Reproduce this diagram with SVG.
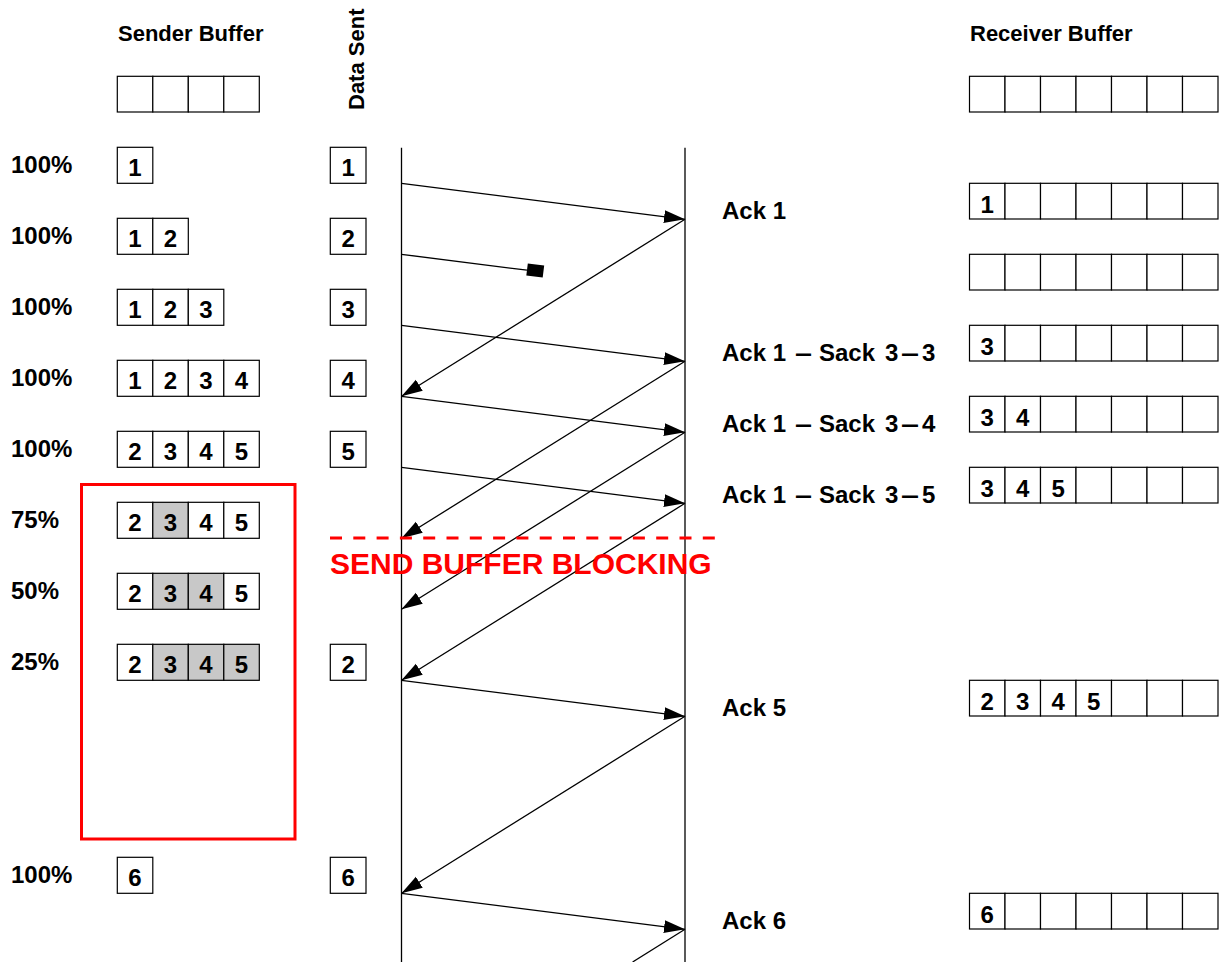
<svg xmlns="http://www.w3.org/2000/svg" width="1220" height="962" viewBox="0 0 1220 962">
<style>
.t{font-family:"Liberation Sans",Arial,sans-serif;font-weight:bold;fill:#000}
.hd{font-size:22px}
.pc{font-size:24px}
.dg{font-size:24px;text-anchor:middle}
.ak{font-size:24px}
.c{fill:#fff;stroke:#000;stroke-width:1.2}
.g{fill:#c8c8c8;stroke:#000;stroke-width:1.2}
.ln{stroke:#000;stroke-width:1.3;fill:none}
.ar{stroke:#000;stroke-width:1.3;fill:none;marker-end:url(#ah)}
</style>
<defs>
<marker id="ah" markerUnits="userSpaceOnUse" markerWidth="22" markerHeight="14" viewBox="0 0 22 14" refX="21" refY="7" orient="auto">
<path d="M0,0.5 L21,7 L0,13.5 z" fill="#000"/>
</marker>
</defs>
<rect width="1220" height="962" fill="#fff"/>

<g id="headers">
<text class="t hd" x="118" y="41">Sender Buffer</text>
<text class="t hd" x="970" y="41">Receiver Buffer</text>
<text class="t hd" transform="translate(364,110) rotate(-90)">Data Sent</text>
</g>

<g id="sender-header">
<rect class="c" x="117.3" y="76.3" width="35.5" height="35.7"/>
<rect class="c" x="152.8" y="76.3" width="35.5" height="35.7"/>
<rect class="c" x="188.3" y="76.3" width="35.5" height="35.7"/>
<rect class="c" x="223.8" y="76.3" width="35.5" height="35.7"/>
</g>

<g id="receiver-header">
<rect class="c" x="969.5" y="76.3" width="35.5" height="35.7"/>
<rect class="c" x="1005" y="76.3" width="35.5" height="35.7"/>
<rect class="c" x="1040.5" y="76.3" width="35.5" height="35.7"/>
<rect class="c" x="1076" y="76.3" width="35.5" height="35.7"/>
<rect class="c" x="1111.5" y="76.3" width="35.5" height="35.7"/>
<rect class="c" x="1147" y="76.3" width="35.5" height="35.7"/>
<rect class="c" x="1182.5" y="76.3" width="35.5" height="35.7"/>
</g>

<g id="percent-labels">
<text class="t pc" x="11" y="173.3">100%</text>
<text class="t pc" x="11" y="244.3">100%</text>
<text class="t pc" x="11" y="315.3">100%</text>
<text class="t pc" x="11" y="386.3">100%</text>
<text class="t pc" x="11" y="457.3">100%</text>
<text class="t pc" x="11" y="528.3">75%</text>
<text class="t pc" x="11" y="599.3">50%</text>
<text class="t pc" x="11" y="670.3">25%</text>
<text class="t pc" x="11" y="883.3">100%</text>
</g>

<g id="sender-row-1">
<rect class="c" x="117.3" y="147.3" width="35.5" height="36"/>
<text class="t dg" x="135" y="175.5">1</text>
</g>
<g id="sender-row-2">
<rect class="c" x="117.3" y="218.3" width="35.5" height="36"/>
<rect class="c" x="152.8" y="218.3" width="35.5" height="36"/>
<text class="t dg" x="135" y="246.5">1</text>
<text class="t dg" x="170.5" y="246.5">2</text>
</g>
<g id="sender-row-3">
<rect class="c" x="117.3" y="289.3" width="35.5" height="36"/>
<rect class="c" x="152.8" y="289.3" width="35.5" height="36"/>
<rect class="c" x="188.3" y="289.3" width="35.5" height="36"/>
<text class="t dg" x="135" y="317.5">1</text>
<text class="t dg" x="170.5" y="317.5">2</text>
<text class="t dg" x="206" y="317.5">3</text>
</g>
<g id="sender-row-4">
<rect class="c" x="117.3" y="360.3" width="35.5" height="36"/>
<rect class="c" x="152.8" y="360.3" width="35.5" height="36"/>
<rect class="c" x="188.3" y="360.3" width="35.5" height="36"/>
<rect class="c" x="223.8" y="360.3" width="35.5" height="36"/>
<text class="t dg" x="135" y="388.5">1</text>
<text class="t dg" x="170.5" y="388.5">2</text>
<text class="t dg" x="206" y="388.5">3</text>
<text class="t dg" x="241.5" y="388.5">4</text>
</g>
<g id="sender-row-5">
<rect class="c" x="117.3" y="431.3" width="35.5" height="36"/>
<rect class="c" x="152.8" y="431.3" width="35.5" height="36"/>
<rect class="c" x="188.3" y="431.3" width="35.5" height="36"/>
<rect class="c" x="223.8" y="431.3" width="35.5" height="36"/>
<text class="t dg" x="135" y="459.5">2</text>
<text class="t dg" x="170.5" y="459.5">3</text>
<text class="t dg" x="206" y="459.5">4</text>
<text class="t dg" x="241.5" y="459.5">5</text>
</g>
<g id="sender-row-6">
<rect class="c" x="117.3" y="502.3" width="35.5" height="36"/>
<rect class="g" x="152.8" y="502.3" width="35.5" height="36"/>
<rect class="c" x="188.3" y="502.3" width="35.5" height="36"/>
<rect class="c" x="223.8" y="502.3" width="35.5" height="36"/>
<text class="t dg" x="135" y="530.5">2</text>
<text class="t dg" x="170.5" y="530.5">3</text>
<text class="t dg" x="206" y="530.5">4</text>
<text class="t dg" x="241.5" y="530.5">5</text>
</g>
<g id="sender-row-7">
<rect class="c" x="117.3" y="573.3" width="35.5" height="36"/>
<rect class="g" x="152.8" y="573.3" width="35.5" height="36"/>
<rect class="g" x="188.3" y="573.3" width="35.5" height="36"/>
<rect class="c" x="223.8" y="573.3" width="35.5" height="36"/>
<text class="t dg" x="135" y="601.5">2</text>
<text class="t dg" x="170.5" y="601.5">3</text>
<text class="t dg" x="206" y="601.5">4</text>
<text class="t dg" x="241.5" y="601.5">5</text>
</g>
<g id="sender-row-8">
<rect class="c" x="117.3" y="644.3" width="35.5" height="36"/>
<rect class="g" x="152.8" y="644.3" width="35.5" height="36"/>
<rect class="g" x="188.3" y="644.3" width="35.5" height="36"/>
<rect class="g" x="223.8" y="644.3" width="35.5" height="36"/>
<text class="t dg" x="135" y="672.5">2</text>
<text class="t dg" x="170.5" y="672.5">3</text>
<text class="t dg" x="206" y="672.5">4</text>
<text class="t dg" x="241.5" y="672.5">5</text>
</g>
<g id="sender-row-9">
<rect class="c" x="117.3" y="857.3" width="35.5" height="36"/>
<text class="t dg" x="135" y="885.5">6</text>
</g>

<g id="data-sent">
<rect class="c" x="330.3" y="147.3" width="35.7" height="36"/><text class="t dg" x="348.2" y="175.5">1</text>
<rect class="c" x="330.3" y="218.3" width="35.7" height="36"/><text class="t dg" x="348.2" y="246.5">2</text>
<rect class="c" x="330.3" y="289.3" width="35.7" height="36"/><text class="t dg" x="348.2" y="317.5">3</text>
<rect class="c" x="330.3" y="360.3" width="35.7" height="36"/><text class="t dg" x="348.2" y="388.5">4</text>
<rect class="c" x="330.3" y="431.3" width="35.7" height="36"/><text class="t dg" x="348.2" y="459.5">5</text>
<rect class="c" x="330.3" y="644.3" width="35.7" height="36"/><text class="t dg" x="348.2" y="672.5">2</text>
<rect class="c" x="330.3" y="857.3" width="35.7" height="36"/><text class="t dg" x="348.2" y="885.5">6</text>
</g>

<g id="receiver-row-1">
<rect class="c" x="969.5" y="183.3" width="35.5" height="35.7"/>
<rect class="c" x="1005" y="183.3" width="35.5" height="35.7"/>
<rect class="c" x="1040.5" y="183.3" width="35.5" height="35.7"/>
<rect class="c" x="1076" y="183.3" width="35.5" height="35.7"/>
<rect class="c" x="1111.5" y="183.3" width="35.5" height="35.7"/>
<rect class="c" x="1147" y="183.3" width="35.5" height="35.7"/>
<rect class="c" x="1182.5" y="183.3" width="35.5" height="35.7"/>
<text class="t dg" x="987.3" y="213">1</text>
</g>
<g id="receiver-row-2">
<rect class="c" x="969.5" y="254.3" width="35.5" height="35.7"/>
<rect class="c" x="1005" y="254.3" width="35.5" height="35.7"/>
<rect class="c" x="1040.5" y="254.3" width="35.5" height="35.7"/>
<rect class="c" x="1076" y="254.3" width="35.5" height="35.7"/>
<rect class="c" x="1111.5" y="254.3" width="35.5" height="35.7"/>
<rect class="c" x="1147" y="254.3" width="35.5" height="35.7"/>
<rect class="c" x="1182.5" y="254.3" width="35.5" height="35.7"/>
</g>
<g id="receiver-row-3">
<rect class="c" x="969.5" y="325.3" width="35.5" height="35.7"/>
<rect class="c" x="1005" y="325.3" width="35.5" height="35.7"/>
<rect class="c" x="1040.5" y="325.3" width="35.5" height="35.7"/>
<rect class="c" x="1076" y="325.3" width="35.5" height="35.7"/>
<rect class="c" x="1111.5" y="325.3" width="35.5" height="35.7"/>
<rect class="c" x="1147" y="325.3" width="35.5" height="35.7"/>
<rect class="c" x="1182.5" y="325.3" width="35.5" height="35.7"/>
<text class="t dg" x="987.3" y="355">3</text>
</g>
<g id="receiver-row-4">
<rect class="c" x="969.5" y="396.3" width="35.5" height="35.7"/>
<rect class="c" x="1005" y="396.3" width="35.5" height="35.7"/>
<rect class="c" x="1040.5" y="396.3" width="35.5" height="35.7"/>
<rect class="c" x="1076" y="396.3" width="35.5" height="35.7"/>
<rect class="c" x="1111.5" y="396.3" width="35.5" height="35.7"/>
<rect class="c" x="1147" y="396.3" width="35.5" height="35.7"/>
<rect class="c" x="1182.5" y="396.3" width="35.5" height="35.7"/>
<text class="t dg" x="987.3" y="426">3</text>
<text class="t dg" x="1022.8" y="426">4</text>
</g>
<g id="receiver-row-5">
<rect class="c" x="969.5" y="467.3" width="35.5" height="35.7"/>
<rect class="c" x="1005" y="467.3" width="35.5" height="35.7"/>
<rect class="c" x="1040.5" y="467.3" width="35.5" height="35.7"/>
<rect class="c" x="1076" y="467.3" width="35.5" height="35.7"/>
<rect class="c" x="1111.5" y="467.3" width="35.5" height="35.7"/>
<rect class="c" x="1147" y="467.3" width="35.5" height="35.7"/>
<rect class="c" x="1182.5" y="467.3" width="35.5" height="35.7"/>
<text class="t dg" x="987.3" y="497">3</text>
<text class="t dg" x="1022.8" y="497">4</text>
<text class="t dg" x="1058.3" y="497">5</text>
</g>
<g id="receiver-row-6">
<rect class="c" x="969.5" y="680.3" width="35.5" height="35.7"/>
<rect class="c" x="1005" y="680.3" width="35.5" height="35.7"/>
<rect class="c" x="1040.5" y="680.3" width="35.5" height="35.7"/>
<rect class="c" x="1076" y="680.3" width="35.5" height="35.7"/>
<rect class="c" x="1111.5" y="680.3" width="35.5" height="35.7"/>
<rect class="c" x="1147" y="680.3" width="35.5" height="35.7"/>
<rect class="c" x="1182.5" y="680.3" width="35.5" height="35.7"/>
<text class="t dg" x="987.3" y="710">2</text>
<text class="t dg" x="1022.8" y="710">3</text>
<text class="t dg" x="1058.3" y="710">4</text>
<text class="t dg" x="1093.8" y="710">5</text>
</g>
<g id="receiver-row-7">
<rect class="c" x="969.5" y="893.3" width="35.5" height="35.7"/>
<rect class="c" x="1005" y="893.3" width="35.5" height="35.7"/>
<rect class="c" x="1040.5" y="893.3" width="35.5" height="35.7"/>
<rect class="c" x="1076" y="893.3" width="35.5" height="35.7"/>
<rect class="c" x="1111.5" y="893.3" width="35.5" height="35.7"/>
<rect class="c" x="1147" y="893.3" width="35.5" height="35.7"/>
<rect class="c" x="1182.5" y="893.3" width="35.5" height="35.7"/>
<text class="t dg" x="987.3" y="923">6</text>
</g>

<g id="ack-labels">
<text class="t ak" x="722" y="219">Ack 1</text>
<text class="t ak" x="722" y="361">Ack 1 <tspan x="795" textLength="17" lengthAdjust="spacingAndGlyphs">–</tspan> <tspan x="819">Sack</tspan> <tspan x="885">3</tspan><tspan x="901" textLength="18" lengthAdjust="spacingAndGlyphs">–</tspan><tspan x="922">3</tspan></text>
<text class="t ak" x="722" y="432">Ack 1 <tspan x="795" textLength="17" lengthAdjust="spacingAndGlyphs">–</tspan> <tspan x="819">Sack</tspan> <tspan x="885">3</tspan><tspan x="901" textLength="18" lengthAdjust="spacingAndGlyphs">–</tspan><tspan x="922">4</tspan></text>
<text class="t ak" x="722" y="503">Ack 1 <tspan x="795" textLength="17" lengthAdjust="spacingAndGlyphs">–</tspan> <tspan x="819">Sack</tspan> <tspan x="885">3</tspan><tspan x="901" textLength="18" lengthAdjust="spacingAndGlyphs">–</tspan><tspan x="922">5</tspan></text>
<text class="t ak" x="722" y="716">Ack 5</text>
<text class="t ak" x="722" y="929">Ack 6</text>
</g>

<g id="blocking-box">
<rect x="81.5" y="484.5" width="213.5" height="354.5" fill="none" stroke="#ff0000" stroke-width="3"/>
</g>

<g id="connectors">
<line class="ln" x1="401.5" y1="147.7" x2="401.5" y2="962"/>
<line class="ln" x1="685" y1="147.7" x2="685" y2="962"/>
<line class="ar" x1="401.5" y1="183.3" x2="685" y2="219.3"/>
<line class="ln" x1="401.5" y1="254.3" x2="527" y2="270.2"/>
<rect x="527" y="264.5" width="16.5" height="12" fill="#000" transform="rotate(7.2 535 270.5)"/>
<line class="ar" x1="401.5" y1="325.3" x2="685" y2="361.3"/>
<line class="ar" x1="401.5" y1="396.3" x2="685" y2="432.3"/>
<line class="ar" x1="401.5" y1="467.3" x2="685" y2="503.3"/>
<line class="ar" x1="401.5" y1="680.3" x2="685" y2="716.3"/>
<line class="ar" x1="401.5" y1="893.3" x2="685" y2="929.3"/>
<line class="ar" x1="685" y1="219.3" x2="401.5" y2="396.3"/>
<line class="ar" x1="685" y1="361.3" x2="401.5" y2="538.3"/>
<line class="ar" x1="685" y1="432.3" x2="401.5" y2="609.3"/>
<line class="ar" x1="685" y1="503.3" x2="401.5" y2="680.3"/>
<line class="ar" x1="685" y1="716.3" x2="401.5" y2="893.3"/>
<line class="ln" x1="685" y1="929.3" x2="632.6" y2="962"/>
</g>

<g id="blocking-marker">
<line x1="330" y1="538" x2="722" y2="538" stroke="#ff0000" stroke-width="3" stroke-dasharray="12 11.3"/>
<text x="330" y="573.5" font-family="Liberation Sans, Arial, sans-serif" font-weight="bold" font-size="30" fill="#ff0000">SEND BUFFER BLOCKING</text>
</g>
</svg>
